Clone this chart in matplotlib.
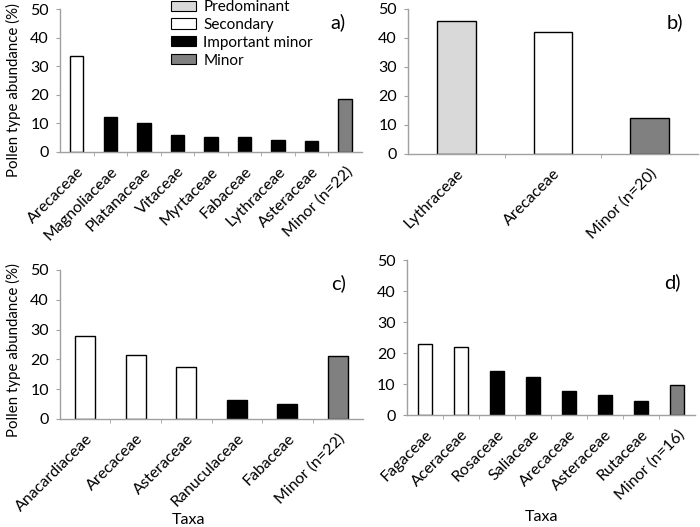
import numpy as np
import matplotlib
matplotlib.use('Agg')
import matplotlib.pyplot as plt
from matplotlib.patches import Patch

plt.rcParams['font.family'] = ['Lato', 'DejaVu Sans']

# categories: P = predominant, S = secondary, I = important minor, M = minor
taxa_a = ['Arecaceae', 'Magnoliaceae', 'Platanaceae', 'Vitaceae', 'Myrtaceae',
          'Fabaceae', 'Lythraceae', 'Asteraceae', 'Minor (n=22)']
vals_a = [33.4, 12.4, 10.1, 6.1, 5.4, 5.4, 4.3, 3.9, 18.6]
cls_a = ['S', 'I', 'I', 'I', 'I', 'I', 'I', 'I', 'M']

taxa_b = ['Lythraceae', 'Arecaceae', 'Minor (n=20)']
vals_b = [45.8, 42.2, 12.3]
cls_b = ['P', 'S', 'M']

taxa_c = ['Anacardiaceae', 'Arecaceae', 'Asteraceae', 'Ranuculaceae',
          'Fabaceae', 'Minor (n=22)']
vals_c = [28.0, 21.6, 17.3, 6.4, 4.9, 21.2]
cls_c = ['S', 'S', 'S', 'I', 'I', 'M']

taxa_d = ['Fagaceae', 'Aceraceae', 'Rosaceae', 'Saliaceae', 'Arecaceae',
          'Asteraceae', 'Rutaceae', 'Minor (n=16)']
vals_d = [22.9, 21.9, 14.2, 12.3, 7.8, 6.4, 4.5, 9.7]
cls_d = ['S', 'S', 'I', 'I', 'I', 'I', 'I', 'M']

colours = {'P': '#d9d9d9', 'S': 'white', 'I': 'black', 'M': '#808080'}
legend_names = [('P', 'Predominant'), ('S', 'Secondary'),
                ('I', 'Important minor'), ('M', 'Minor')]

fig = plt.figure(figsize=(7.0, 5.27), dpi=100)

################################################################################
def panel(rect, taxa, vals, cls, letter, lab_y=0.91):
    ax = fig.add_axes(rect)
    x = np.arange(len(taxa))
    ax.bar(x, vals, width=0.4, color=[colours[c] for c in cls],
           edgecolor='black', linewidth=1.0)
    ax.set_xlim(-0.5, len(taxa) - 0.5)
    ax.set_ylim(0, 50)
    ax.set_yticks(range(0, 51, 10))
    ax.set_xticks(x)
    ax.set_xticklabels(taxa, rotation=45, ha='right', rotation_mode='anchor')
    ax.set_xticks(np.arange(len(taxa) - 1) + 0.5, minor=True)
    ax.tick_params(axis='x', which='major', length=0, pad=9, labelsize=11.5)
    ax.tick_params(axis='x', which='minor', length=3, color='#a0a0a0',
                   direction='out')
    ax.tick_params(axis='y', length=3, color='#a0a0a0', labelsize=11.5, pad=5)
    for s in ['top', 'right']:
        ax.spines[s].set_visible(False)
    for s in ['left', 'bottom']:
        ax.spines[s].set_color('#a0a0a0')
        ax.spines[s].set_linewidth(1.0)
    ax.text(0.92, lab_y, letter, transform=ax.transAxes, fontsize=14.5,
            ha='center', va='center')
    return ax

ax_a = panel([0.0857, 0.7116, 0.4313, 0.2713], taxa_a, vals_a, cls_a, 'a)')
ax_b = panel([0.583, 0.708, 0.414, 0.275], taxa_b, vals_b, cls_b, 'b)')
ax_c = panel([0.0857, 0.205, 0.4329, 0.2827], taxa_c, vals_c, cls_c, 'c)')
ax_d = panel([0.581, 0.2125, 0.412, 0.294], taxa_d, vals_d, cls_d, 'd)',
             lab_y=0.86)

ax_a.set_ylabel('Pollen type abundance (%)', fontsize=10.8)
ax_a.yaxis.set_label_coords(-0.13, 0.43)
ax_c.set_ylabel('Pollen type abundance (%)', fontsize=10.8)
ax_c.yaxis.set_label_coords(-0.13, 0.46)

ax_c.set_xlabel('Taxa', fontsize=11.5)
ax_c.xaxis.set_label_coords(0.425, -0.63)
ax_d.set_xlabel('Taxa', fontsize=11.5)
ax_d.xaxis.set_label_coords(0.469, -0.61)

handles = [Patch(facecolor=colours[k], edgecolor='black', linewidth=0.8,
                 label=n) for k, n in legend_names]
fig.legend(handles=handles, loc='upper left',
           bbox_to_anchor=(168 / 700, 1.0 + 3 / 527), frameon=False,
           fontsize=11, handlelength=1.6, handleheight=0.65,
           handletextpad=0.5, labelspacing=0.25, borderpad=0.2,
           borderaxespad=0)

fig.savefig('out.png', dpi=100)
